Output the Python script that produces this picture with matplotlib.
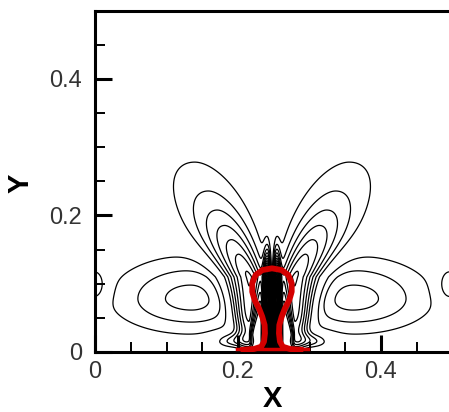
import numpy as np
import matplotlib.pyplot as plt
from matplotlib.ticker import FixedLocator, MultipleLocator

# symmetry line of the flow
x_mid = 0.2475

# left-half flow structures (the right half is the mirror image with opposite sign)
# upper lobe, bubble core, wall foot, side lobe, edge lobe
lobe_x = [0.215, 0.241, 0.198, 0.135, 0.0]
lobe_y = [0.110, 0.075, 0.016, 0.078, 0.098]
lobe_amp = [0.80, 2.50, 0.30, -0.34, 0.25]
lobe_wl = [0.033, 0.005, 0.028, 0.103, 0.016]
lobe_wr = [0.021, 0.004, 0.022, 0.080, 0.016]
lobe_wb = [0.100, 0.075, 0.010, 0.047, 0.025]
lobe_wt = [0.0996, 0.050, 0.012, 0.057, 0.025]
lobe_px = [2.0, 2.0, 2.0, 2.0, 2.0]
lobe_pb = [4.0, 4.0, 2.0, 2.0, 2.0]
lobe_pt = [1.4, 2.0, 2.0, 2.0, 2.0]
lobe_shear = [0.45, 0.0, 0.0, 0.0, 0.0]
lobe_grow = [0.20, 0.0, 0.0, 0.0, 0.0]
wall_layer = 0.004

level_values = np.round(np.arange(0.1, 3.01, 0.1), 2)

# bubble interface: height and half width about x_mid
bubble_y = [0.1225, 0.120, 0.1127, 0.1006, 0.0883, 0.0761, 0.0640, 0.0517,
            0.0395, 0.0274, 0.0151, 0.0078, 0.0044, 0.0030]
bubble_half = [0.0, 0.0135, 0.0229, 0.0276, 0.0276, 0.0243, 0.0182, 0.0136,
               0.0103, 0.0098, 0.0112, 0.0150, 0.0252, 0.0440]
film_x = [0.198, 0.298]
film_y = [0.004, 0.004]

x_ticks = [0, 0.2, 0.4]
x_tick_labels = ["0", "0.2", "0.4"]
y_ticks = [0, 0.2, 0.4]
y_tick_labels = ["0", "0.2", "0.4"]


def lobe(X, Y, i):
    dy = Y - lobe_y[i]
    up = np.clip(dy, 0, None)
    xs = X - lobe_x[i] + lobe_shear[i] * up
    wx = np.where(xs < 0, lobe_wl[i], lobe_wr[i]) + lobe_grow[i] * dy
    wx = np.clip(wx, 0.004, None)
    wy = np.where(dy < 0, lobe_wb[i], lobe_wt[i])
    py = np.where(dy < 0, lobe_pb[i], lobe_pt[i])
    return lobe_amp[i] * np.exp(-(np.abs(xs / wx) ** lobe_px[i]
                                  + np.abs(dy / wy) ** py))


gx = np.linspace(0, 0.5, 1000)
gy = np.linspace(0, 0.5, 1000)
X, Y = np.meshgrid(gx, gy)
field = np.zeros_like(X)
for i in range(len(lobe_x)):
    field += lobe(X, Y, i) - lobe(2 * x_mid - X, Y, i)
field *= 1 - np.exp(-Y / wall_layer)

levels = np.concatenate([-level_values[::-1], level_values])

fig = plt.figure(figsize=(4.49, 4.12), dpi=100)
ax = fig.add_axes([95 / 449, 60 / 412, 357.5 / 449, 341.5 / 412])

ax.contour(X, Y, field, levels=levels, colors="black", linewidths=0.9,
           linestyles="solid")

half = np.array(bubble_half)
by = np.array(bubble_y)
bx = np.concatenate([x_mid - half[::-1], x_mid + half])
byy = np.concatenate([by[::-1], by])
ax.plot(bx, byy, color="#d40000", lw=4.2, solid_capstyle="butt", zorder=5)
ax.plot(film_x, film_y, color="#d40000", lw=2.5, zorder=5)

ax.set_xlim(0, 0.5)
ax.set_ylim(0, 0.5)
ax.xaxis.set_major_locator(FixedLocator(x_ticks))
ax.yaxis.set_major_locator(FixedLocator(y_ticks))
ax.set_xticklabels(x_tick_labels)
ax.set_yticklabels(y_tick_labels)
ax.xaxis.set_minor_locator(MultipleLocator(0.05))
ax.yaxis.set_minor_locator(MultipleLocator(0.05))
ax.tick_params(which="major", direction="in", length=12, width=2.2,
               labelsize=17, colors="black", labelcolor="#333333")
ax.tick_params(axis="y", which="major", pad=9.5)
ax.tick_params(axis="x", which="major", pad=6.5)
ax.tick_params(which="minor", direction="in", length=7, width=1.4)
ax.tick_params(top=False, right=False, which="both")
for lab in ax.get_xticklabels() + ax.get_yticklabels():
    lab.set_family("Liberation Sans")
for sp in ax.spines.values():
    sp.set_linewidth(2.2)

fig.text(272 / 449, 1 - 399 / 412, "X", ha="center", va="center",
         fontsize=21, fontweight="bold", family="Liberation Sans")
fig.text(21 / 449, 1 - 183 / 412, "Y", ha="center", va="center",
         rotation=90, fontsize=21, fontweight="bold", family="Liberation Sans")

fig.savefig("out.png", dpi=100)
